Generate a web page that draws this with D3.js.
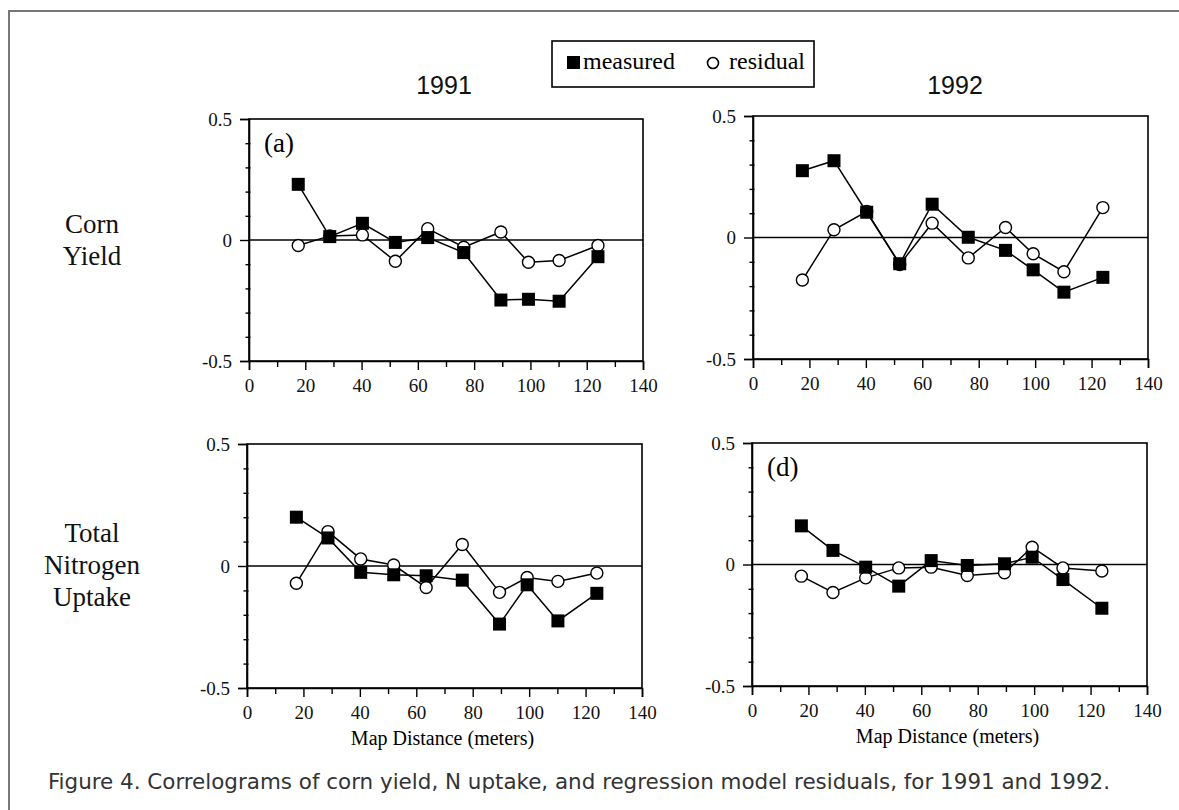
<!DOCTYPE html>
<html>
<head>
<meta charset="utf-8">
<script src="https://cdn.jsdelivr.net/npm/d3@7"></script>
<style>
  body { margin: 0; background: #fff; }
  svg { display: block; }
</style>
</head>
<body>
<svg id="chart"></svg>
<script>
// lag distances (m) shared by all four correlograms
const distance = [17.5, 28.7, 40.3, 52, 63.5, 76.3, 89.5, 99.3, 110.2, 124];

// (a) corn yield 1991
const yield1991Measured = [0.23, 0.014, 0.069, -0.01, 0.01, -0.052, -0.248, -0.245, -0.253, -0.069];
const yield1991Residual = [-0.023, 0.017, 0.021, -0.088, 0.047, -0.03, 0.033, -0.092, -0.085, -0.023];
// (b) corn yield 1992
const yield1992Measured = [0.275, 0.316, 0.104, -0.108, 0.137, 0.001, -0.053, -0.133, -0.225, -0.164];
const yield1992Residual = [-0.175, 0.032, 0.107, -0.111, 0.059, -0.084, 0.041, -0.067, -0.141, 0.123];
// (c) total N uptake 1991
const nitro1991Measured = [0.2, 0.115, -0.026, -0.036, -0.04, -0.058, -0.238, -0.077, -0.225, -0.112];
const nitro1991Residual = [-0.071, 0.141, 0.029, 0.004, -0.088, 0.088, -0.108, -0.047, -0.063, -0.029];
// (d) total N uptake 1992
const nitro1992Measured = [0.159, 0.058, -0.011, -0.089, 0.016, -0.004, 0.003, 0.03, -0.062, -0.18];
const nitro1992Residual = [-0.048, -0.115, -0.055, -0.014, -0.011, -0.045, -0.034, 0.071, -0.014, -0.027];

const xMajor = [0, 20, 40, 60, 80, 100, 120, 140];
const xMinor = [10, 30, 50, 70, 90, 110, 130];
const yMajor = [-0.5, 0, 0.5];
const yMinor = [-0.4, -0.3, -0.2, -0.1, 0.1, 0.2, 0.3, 0.4];

const years = ["1991", "1992"];
const rowLabels = [["Corn", "Yield"], ["Total", "Nitrogen", "Uptake"]];
const xTitle = "Map Distance (meters)";
const caption = "Figure 4. Correlograms of corn yield, N uptake, and regression model residuals, for 1991 and 1992.";

const width = 1179, height = 810;
const serif = "'Liberation Serif', 'Times New Roman', serif";
const sans = "'Liberation Sans', Arial, sans-serif";

const svg = d3.select("#chart").attr("width", width).attr("height", height);

// outer frame of the figure
svg.append("path")
  .attr("d", `M9,${height + 5} V11 H${width + 5}`)
  .attr("fill", "none")
  .attr("stroke", "#777")
  .attr("stroke-width", 2);

const panels = [
  { left: 249, right: 643, top: 119, bottom: 361, measured: yield1991Measured, residual: yield1991Residual, tag: "(a)", xTitle: false },
  { left: 753, right: 1148, top: 116, bottom: 359, measured: yield1992Measured, residual: yield1992Residual, tag: null, xTitle: false },
  { left: 247, right: 642, top: 444, bottom: 688, measured: nitro1991Measured, residual: nitro1991Residual, tag: null, xTitle: true },
  { left: 752, right: 1147, top: 443, bottom: 686, measured: nitro1992Measured, residual: nitro1992Residual, tag: "(d)", xTitle: true }
];

panels.forEach((p) => {
  const x = d3.scaleLinear().domain([0, 140]).range([p.left, p.right]);
  const y = d3.scaleLinear().domain([-0.5, 0.5]).range([p.bottom, p.top]);
  const g = svg.append("g");

  // box
  g.append("rect")
    .attr("x", p.left).attr("y", p.top)
    .attr("width", p.right - p.left).attr("height", p.bottom - p.top)
    .attr("fill", "none").attr("stroke", "#000").attr("stroke-width", 1.6);

  // y axis
  g.append("g")
    .attr("transform", `translate(${p.left},0)`)
    .call(d3.axisLeft(y).tickValues(yMajor).tickSize(9).tickPadding(8).tickFormat((d) => String(d)))
    .call((a) => a.select(".domain").attr("stroke-width", 1.6))
    .call((a) => a.selectAll("line").attr("stroke-width", 1.4))
    .call((a) => a.selectAll("text").style("font-family", serif).style("font-size", "19px").attr("fill", "#111"));
  g.append("g")
    .attr("transform", `translate(${p.left + 1.5},0)`)
    .call(d3.axisLeft(y).tickValues(yMinor).tickSize(5).tickFormat(""))
    .call((a) => a.select(".domain").remove())
    .call((a) => a.selectAll("line").attr("stroke-width", 1.4));

  // x axis
  g.append("g")
    .attr("transform", `translate(0,${p.bottom})`)
    .call(d3.axisBottom(x).tickValues(xMajor).tickSize(9).tickPadding(9).tickFormat((d) => String(d)))
    .call((a) => a.select(".domain").attr("stroke-width", 1.6))
    .call((a) => a.selectAll("line").attr("stroke-width", 1.4))
    .call((a) => a.selectAll("text").style("font-family", serif).style("font-size", "19px").attr("fill", "#111"));
  g.append("g")
    .attr("transform", `translate(0,${p.bottom})`)
    .call(d3.axisBottom(x).tickValues(xMinor).tickSize(6).tickFormat(""))
    .call((a) => a.select(".domain").remove())
    .call((a) => a.selectAll("line").attr("stroke-width", 1.4));

  // zero line
  g.append("line")
    .attr("x1", p.left).attr("x2", p.right)
    .attr("y1", y(0)).attr("y2", y(0))
    .attr("stroke", "#000").attr("stroke-width", 1.5);

  const line = d3.line().x((d, i) => x(distance[i])).y((d) => y(d));

  g.append("path").datum(p.residual)
    .attr("fill", "none").attr("stroke", "#000").attr("stroke-width", 1.5).attr("d", line);
  g.append("path").datum(p.measured)
    .attr("fill", "none").attr("stroke", "#000").attr("stroke-width", 1.5).attr("d", line);

  g.selectAll("circle").data(p.residual).join("circle")
    .attr("cx", (d, i) => x(distance[i])).attr("cy", (d) => y(d))
    .attr("r", 6)
    .attr("fill", "#fff").attr("stroke", "#000").attr("stroke-width", 1.4);

  g.selectAll("rect.m").data(p.measured).join("rect")
    .attr("class", "m")
    .attr("x", (d, i) => x(distance[i]) - 6.5).attr("y", (d) => y(d) - 6.5)
    .attr("width", 13).attr("height", 13)
    .attr("fill", "#000");

  if (p.tag) {
    g.append("text")
      .attr("x", p.left + 15).attr("y", p.top + 33)
      .style("font-family", serif).style("font-size", "27px")
      .text(p.tag);
  }

  if (p.xTitle) {
    g.append("text")
      .attr("x", (p.left + p.right) / 2 - 2).attr("y", p.bottom + 57)
      .attr("text-anchor", "middle")
      .style("font-family", serif).style("font-size", "20px")
      .text(xTitle);
  }
});

// year headings
[444, 955].forEach((cx, i) => {
  svg.append("text")
    .attr("x", cx).attr("y", 94)
    .attr("text-anchor", "middle")
    .style("font-family", sans).style("font-size", "25px")
    .attr("fill", "#111")
    .text(years[i]);
});

// row labels
const rowBase = [233, 542];
rowLabels.forEach((lines, r) => {
  lines.forEach((t, k) => {
    svg.append("text")
      .attr("x", 92).attr("y", rowBase[r] + k * 32)
      .attr("text-anchor", "middle")
      .style("font-family", serif).style("font-size", "27px")
      .attr("fill", "#111")
      .text(t);
  });
});

// legend
const lg = svg.append("g");
lg.append("rect")
  .attr("x", 552).attr("y", 41).attr("width", 262).attr("height", 46)
  .attr("fill", "#fff").attr("stroke", "#000").attr("stroke-width", 1.6);
lg.append("rect")
  .attr("x", 567).attr("y", 56).attr("width", 13).attr("height", 13)
  .attr("fill", "#000");
lg.append("text")
  .attr("x", 583).attr("y", 69)
  .style("font-family", serif).style("font-size", "24px")
  .text("measured");
lg.append("circle")
  .attr("cx", 713).attr("cy", 63).attr("r", 5.5)
  .attr("fill", "#fff").attr("stroke", "#000").attr("stroke-width", 1.6);
lg.append("text")
  .attr("x", 729).attr("y", 69)
  .style("font-family", serif).style("font-size", "24px")
  .text("residual");

// caption
svg.append("text")
  .attr("x", 48).attr("y", 789)
  .attr("textLength", 1062).attr("lengthAdjust", "spacingAndGlyphs")
  .style("font-family", "'DejaVu Sans Condensed', 'Liberation Sans Narrow', 'Liberation Sans', sans-serif")
  .style("font-size", "21px")
  .attr("fill", "#333")
  .text(caption);
</script>
</body>
</html>
